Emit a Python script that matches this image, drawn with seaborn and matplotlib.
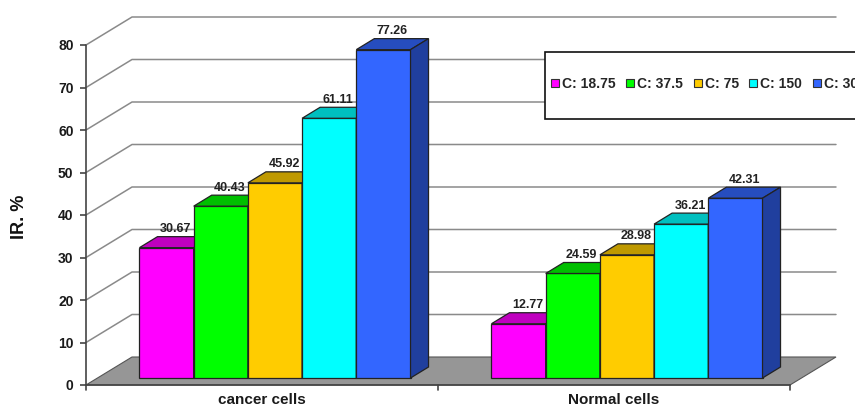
import numpy as np
import pandas as pd
import seaborn as sns
import matplotlib
matplotlib.use("Agg")
import matplotlib.pyplot as plt
from matplotlib.patches import Polygon, Rectangle
from matplotlib.lines import Line2D
from matplotlib.colors import to_rgb

# ---- data -------------------------------------------------------------
categories = ["cancer cells", "Normal cells"]
concentrations = ["C: 18.75", "C: 37.5", "C: 75", "C: 150", "C: 300"]
cancer_ir = [30.67, 40.43, 45.92, 61.11, 77.26]
normal_ir = [12.77, 24.59, 28.98, 36.21, 42.31]
y_ticks = [0, 10, 20, 30, 40, 50, 60, 70, 80]

front_colors = ["#FF00FF", "#00FF00", "#FFCC00", "#00FFFF", "#3366FF"]

df = pd.DataFrame({
    "cell": np.repeat(categories, len(concentrations)),
    "conc": concentrations * len(categories),
    "IR": cancer_ir + normal_ir,
})

# ---- figure -----------------------------------------------------------
sns.set_theme(style="white")
plt.rcParams["font.family"] = ["Liberation Sans", "DejaVu Sans"]
plt.rcParams["font.weight"] = "bold"

W, H, DPI = 855, 407, 100
fig = plt.figure(figsize=(W / DPI, H / DPI), dpi=DPI)
# front plane of the chart box, in pixels
x0_px, x1_px, y0_px, y1_px = 86, 790, 385, 45
ax = fig.add_axes([x0_px / W, 1 - y0_px / H, (x1_px - x0_px) / W, (y0_px - y1_px) / H])

sns.barplot(data=df, x="cell", y="IR", hue="conc", hue_order=concentrations,
            order=categories, palette=front_colors, width=0.77, dodge=True,
            edgecolor="#222222", linewidth=0.9, saturation=1, legend=False,
            errorbar=None, ax=ax)

ax.set_xlim(-0.5, 1.5)
ax.set_ylim(0, 80)
for s in ax.spines.values():
    s.set_visible(False)
ax.set_xlabel("")
ax.set_ylabel("")

# pixel -> data conversion (layout is fixed)
sx = 2.0 / (x1_px - x0_px)
sy = 80.0 / (y0_px - y1_px)


def d(px_x, px_y):
    return px_x * sx, px_y * sy


wall_dx, wall_dy = d(46, 28)     # depth of the whole chart box
bar_ox, bar_oy = d(13, 7)        # bars sit a little behind the front plane
dep_x, dep_y = d(18, 11)         # depth of each bar

# floor
floor = Polygon([(-0.5, 0), (1.5, 0), (1.5 + wall_dx, wall_dy), (-0.5 + wall_dx, wall_dy)],
                closed=True, facecolor="#969696", edgecolor="#555555", lw=0.8,
                zorder=0.5, clip_on=False)
ax.add_patch(floor)

# side wall diagonals and back-wall gridlines
for v in y_ticks[1:]:
    ax.plot([-0.5, -0.5 + wall_dx, 1.5 + wall_dx], [v, v + wall_dy, v + wall_dy],
            color="#8a8a8a", lw=1.1, zorder=0.4, clip_on=False)

# front axes lines
ax.plot([-0.5, -0.5], [0, 80], color="#444444", lw=1.2, zorder=6, clip_on=False)
ax.plot([-0.5, 1.5], [0, 0], color="#444444", lw=1.2, zorder=6, clip_on=False)
for xv in [-0.5, 0.5, 1.5]:
    ax.plot([xv, xv], [0, -d(0, 5)[1]], color="#444444", lw=1.2, zorder=6, clip_on=False)


def shade(c, f):
    r, g, b = to_rgb(c)
    return (r * f, g * f, b * f)


# turn flat bars into 3-D columns
n_hue = len(concentrations)
for i, bar in enumerate(ax.patches[:n_hue * len(categories)]):
    hue_i = i // len(categories)
    col = front_colors[hue_i]
    z = 2 + hue_i
    x = bar.get_x() + bar_ox
    w = bar.get_width()
    h = bar.get_height()
    bar.set_x(x)
    bar.set_y(bar_oy)
    bar.set_zorder(z)
    top = bar_oy + h
    ax.add_patch(Polygon([(x, top), (x + w, top), (x + w + dep_x, top + dep_y), (x + dep_x, top + dep_y)],
                         closed=True, facecolor=shade(col, 0.75), edgecolor="#222222",
                         lw=0.9, zorder=z, clip_on=False))
    ax.add_patch(Polygon([(x + w, bar_oy), (x + w + dep_x, bar_oy + dep_y),
                          (x + w + dep_x, top + dep_y), (x + w, top)],
                         closed=True, facecolor=shade(col, 0.62), edgecolor="#222222",
                         lw=0.9, zorder=z, clip_on=False))
    ax.text(x + w / 2 + dep_x / 2, top + dep_y + d(0, 1.5)[1], f"{h:.2f}",
            ha="center", va="bottom", fontsize=9, fontweight="bold",
            color="#222222", zorder=20, clip_on=False)

# ticks and labels
ax.set_yticks(y_ticks)
ax.set_yticklabels([str(v) for v in y_ticks], fontsize=10, fontweight="bold", color="#1a1a1a")
ax.tick_params(axis="y", length=4, width=1.2, color="#444444", pad=5, left=True)
ax.set_xticks([0, 1])
ax.set_xticklabels(categories, fontsize=11, fontweight="bold", color="#1a1a1a")
ax.tick_params(axis="x", length=0, pad=6)

fig.text(20 / W, 1 - 217 / H, "IR. %", rotation=90, ha="center", va="center",
         fontsize=13, fontweight="bold", color="#111111")

# legend box
fig.patches.append(Rectangle((545 / W, 1 - 119 / H), 340 / W, 67 / H,
                             transform=fig.transFigure, facecolor="white",
                             edgecolor="#111111", lw=1.2, zorder=4))
handles = [Line2D([], [], marker="s", ls="none", markersize=6, markerfacecolor=c,
                  markeredgecolor="#333333", markeredgewidth=0.8) for c in front_colors]
leg = fig.legend(handles, concentrations, loc="center left",
                 bbox_to_anchor=(551 / W, 1 - 84 / H), bbox_transform=fig.transFigure,
                 ncol=5, frameon=False, borderpad=0, borderaxespad=0, handlelength=0.6,
                 handletextpad=0.2, columnspacing=0.75,
                 prop={"size": 10, "weight": "bold"})
leg.set_zorder(8)

fig.savefig("out.png", dpi=DPI)
